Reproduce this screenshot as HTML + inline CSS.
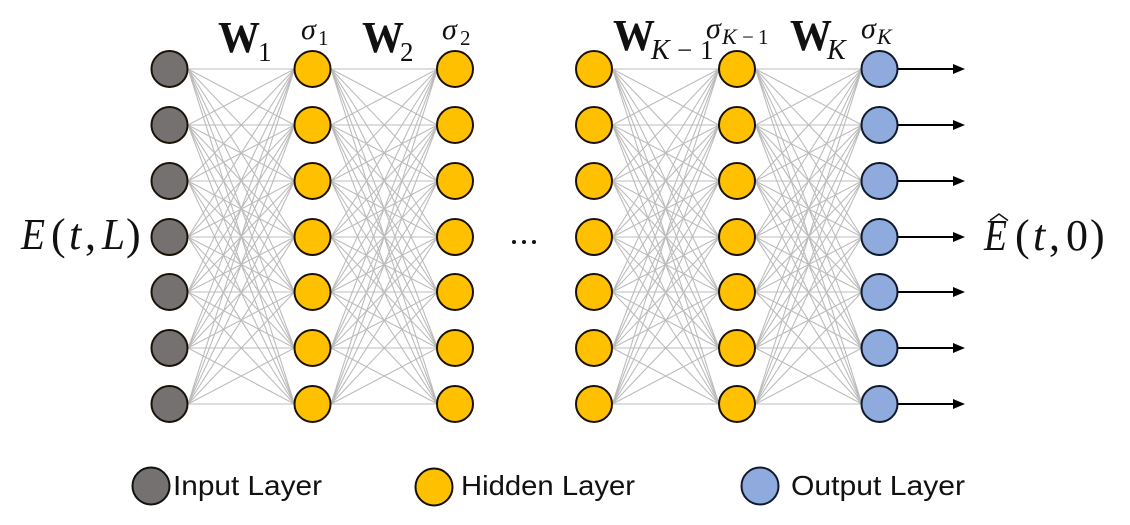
<!DOCTYPE html>
<html>
<head>
<meta charset="utf-8">
<style>
html,body{margin:0;padding:0;background:#fff;width:1130px;height:525px;overflow:hidden}
svg{display:block}
text{font-family:"Liberation Serif",serif;fill:#111}
.i{font-style:italic}
.b{font-weight:bold;font-size:44px}
.l{font-family:"Liberation Sans",sans-serif;font-size:28px;fill:#111}
</style>
</head>
<body>
<svg width="1130" height="525" viewBox="0 0 1130 525" xmlns="http://www.w3.org/2000/svg">
<defs>
<path id="m" fill="none" stroke="#bcbcbc" stroke-width="1.100" d="
M0 69L106.500 69M0 69L106.500 125M0 69L106.500 181M0 69L106.500 237M0 69L106.500 292M0 69L106.500 348M0 69L106.500 404
M0 125L106.500 69M0 125L106.500 125M0 125L106.500 181M0 125L106.500 237M0 125L106.500 292M0 125L106.500 348M0 125L106.500 404
M0 181L106.500 69M0 181L106.500 125M0 181L106.500 181M0 181L106.500 237M0 181L106.500 292M0 181L106.500 348M0 181L106.500 404
M0 237L106.500 69M0 237L106.500 125M0 237L106.500 181M0 237L106.500 237M0 237L106.500 292M0 237L106.500 348M0 237L106.500 404
M0 292L106.500 69M0 292L106.500 125M0 292L106.500 181M0 292L106.500 237M0 292L106.500 292M0 292L106.500 348M0 292L106.500 404
M0 348L106.500 69M0 348L106.500 125M0 348L106.500 181M0 348L106.500 237M0 348L106.500 292M0 348L106.500 348M0 348L106.500 404
M0 404L106.500 69M0 404L106.500 125M0 404L106.500 181M0 404L106.500 237M0 404L106.500 292M0 404L106.500 348M0 404L106.500 404"/>
<g id="c">
<circle cx="0" cy="69" r="18"/><circle cx="0" cy="125" r="18"/><circle cx="0" cy="181" r="18"/><circle cx="0" cy="237" r="18"/><circle cx="0" cy="292" r="18"/><circle cx="0" cy="348" r="18"/><circle cx="0" cy="404" r="18"/>
</g>
</defs>

<use href="#m" x="188"/>
<use href="#m" x="331"/>
<use href="#m" x="612.500"/>
<use href="#m" x="755.500"/>

<g stroke="#000" stroke-width="2">
<path d="M898 69H956M898 125H956M898 181H956M898 237H956M898 292H956M898 348H956M898 404H956"/>
</g>
<g fill="#000">
<path d="M953 64L965 69L953 74Z"/>
<path d="M953 120L965 125L953 130Z"/>
<path d="M953 176L965 181L953 186Z"/>
<path d="M953 232L965 237L953 242Z"/>
<path d="M953 287L965 292L953 297Z"/>
<path d="M953 343L965 348L953 353Z"/>
<path d="M953 399L965 404L953 409Z"/>
</g>

<g stroke="#1a1208" stroke-width="2">
<use href="#c" x="169.500" fill="#767171"/>
<use href="#c" x="312.500" fill="#FFC000"/>
<use href="#c" x="455" fill="#FFC000"/>
<use href="#c" x="594" fill="#FFC000"/>
<use href="#c" x="737" fill="#FFC000"/>
</g>
<use href="#c" x="879.500" fill="#8FAADC" stroke="#0f1a2e" stroke-width="2"/>

<text class="b" x="218" y="52" textLength="42" lengthAdjust="spacingAndGlyphs">W</text>
<text x="258" y="61" font-size="27">1</text>
<text class="i" x="301" y="39" font-size="30">σ</text>
<text x="318" y="45" font-size="21">1</text>

<text class="b" x="362" y="52" textLength="42" lengthAdjust="spacingAndGlyphs">W</text>
<text x="400" y="61" font-size="27">2</text>
<text class="i" x="442" y="39" font-size="30">σ</text>
<text x="460" y="45" font-size="21">2</text>

<text class="b" x="613" y="50" textLength="42" lengthAdjust="spacingAndGlyphs">W</text>
<text class="i" x="651" y="59" font-size="28">K</text>
<text x="677" y="59" font-size="27">−</text>
<text x="700" y="59" font-size="27">1</text>
<text class="i" x="706" y="38" font-size="30">σ</text>
<text class="i" x="722" y="44" font-size="22">K</text>
<text x="742" y="44" font-size="21">−</text>
<text x="758" y="44" font-size="21">1</text>

<text class="b" x="790" y="50" textLength="42" lengthAdjust="spacingAndGlyphs">W</text>
<text class="i" x="827" y="59" font-size="28">K</text>
<text class="i" x="861" y="38" font-size="30">σ</text>
<text class="i" x="877" y="44" font-size="22">K</text>

<text class="i" x="21" y="249" font-size="44" textLength="24" lengthAdjust="spacingAndGlyphs">E</text>
<text x="51" y="249" font-size="44">(</text>
<text class="i" x="69" y="249" font-size="44">t</text>
<text x="85" y="249" font-size="44">,</text>
<text class="i" x="102" y="249" font-size="44" textLength="23" lengthAdjust="spacingAndGlyphs">L</text>
<text x="126" y="249" font-size="44">)</text>

<text class="i" x="984" y="250" font-size="44" textLength="23" lengthAdjust="spacingAndGlyphs">E</text>
<path d="M990 220.500L999 214L1008 220.500" fill="none" stroke="#111" stroke-width="1.500"/>
<text x="1015" y="250" font-size="44">(</text>
<text class="i" x="1033" y="250" font-size="44">t</text>
<text x="1049" y="250" font-size="44">,</text>
<text x="1066" y="250" font-size="44">0</text>
<text x="1090" y="250" font-size="44">)</text>

<g fill="#111">
<circle cx="514" cy="242" r="2"/><circle cx="524" cy="242" r="2"/><circle cx="534" cy="242" r="2"/>
</g>

<ellipse cx="151" cy="486" rx="18.500" ry="18.500" fill="#767171" stroke="#111" stroke-width="2"/>
<ellipse cx="434" cy="487" rx="18.500" ry="18.500" fill="#FFC000" stroke="#111" stroke-width="2"/>
<ellipse cx="760" cy="486" rx="18.500" ry="18.500" fill="#8FAADC" stroke="#0f1a2e" stroke-width="2"/>

<text class="l" x="173" y="495" textLength="149" lengthAdjust="spacingAndGlyphs">Input Layer</text>
<text class="l" x="461" y="495" textLength="174" lengthAdjust="spacingAndGlyphs">Hidden Layer</text>
<text class="l" x="791" y="495" textLength="174" lengthAdjust="spacingAndGlyphs">Output Layer</text>
</svg>
</body>
</html>
